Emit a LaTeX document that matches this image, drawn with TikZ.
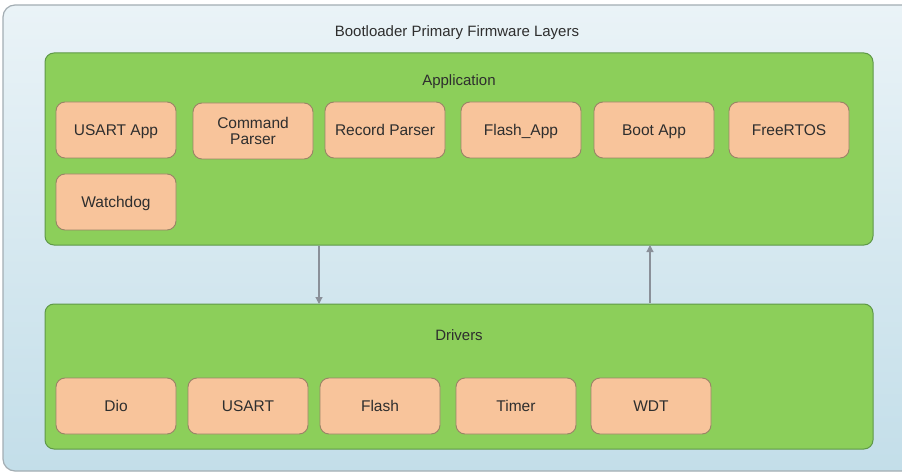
\documentclass[tikz,border=0pt]{standalone}
\usepackage{fontspec}
\setmainfont{Liberation Sans}
\usetikzlibrary{arrows.meta}
\definecolor{panelTop}{HTML}{EAF3F7}
\definecolor{panelBot}{HTML}{C3DEE9}
\definecolor{panelLine}{HTML}{A3ADB3}
\definecolor{layerFill}{HTML}{8CCF5A}
\definecolor{layerLine}{HTML}{5E9848}
\definecolor{modFill}{HTML}{F8C49B}
\definecolor{modLine}{HTML}{9A8466}
\definecolor{txt}{HTML}{2E2E2E}
\definecolor{arrowGray}{HTML}{8A9099}
\tikzset{
  layer/.style={draw=layerLine, line width=1pt, fill=layerFill, rounded corners=9pt},
  module/.style={draw=modLine, line width=0.9pt, fill=modFill, rounded corners=9pt,
    minimum width=120pt, minimum height=56pt, inner sep=2pt, align=center,
    text=txt, font=\fontsize{15.5}{17}\selectfont},
  oneline/.style={module, text height=10.8pt, text depth=0pt},
  caption/.style={text=txt, font=\fontsize{15}{17}\selectfont},
  flow/.style={draw=arrowGray, line width=1.1pt, -{Triangle[length=7pt,width=7pt]}}
}
\begin{document}
\begin{tikzpicture}[x=1pt,y=-1pt]
\useasboundingbox (0,0) rectangle (902,473);
% outer panel, running past the right edge
\begin{scope}
  \clip (0,0) rectangle (902,473);
  \shade[top color=panelTop, bottom color=panelBot, rounded corners=12pt]
    (3,5) rectangle (930,471);
  \draw[panelLine, line width=1.2pt, rounded corners=12pt] (3,5) rectangle (930,471);
\end{scope}
\node[caption] (title) at (457,33) {Bootloader Primary Firmware Layers};

% application layer
\draw[layer] (45,53) rectangle (873,245);
\node[caption] (appLbl) at (459,82) {Application};
\node[oneline] (usartApp) at (116,130) {USART App};
\node[module] (cmdParser) at (253,131) {Command\\[-1pt]Parser};
\node[oneline] (recParser) at (385,130) {Record Parser};
\node[oneline] (flashApp) at (521,130) {Flash\_App};
\node[oneline] (bootApp) at (654,130) {Boot App};
\node[oneline] (freertos) at (789,130) {FreeRTOS};
\node[oneline] (watchdog) at (116,202) {Watchdog};

% drivers layer
\draw[layer] (45,304) rectangle (873,449);
\node[caption] (drvLbl) at (459,335) {Drivers};
\node[oneline] (dio) at (116,406) {Dio};
\node[oneline] (usart) at (248,406) {USART};
\node[oneline] (flash) at (380,406) {Flash};
\node[oneline] (timer) at (516,406) {Timer};
\node[oneline] (wdt) at (651,406) {WDT};

% connections between the layers
\coordinate (downFrom) at (319,246);
\coordinate (downTo) at (319,304);
\coordinate (upFrom) at (650,303);
\coordinate (upTo) at (650,245);
\draw[flow] (downFrom) -- (downTo);
\draw[flow] (upFrom) -- (upTo);
\end{tikzpicture}
\end{document}
